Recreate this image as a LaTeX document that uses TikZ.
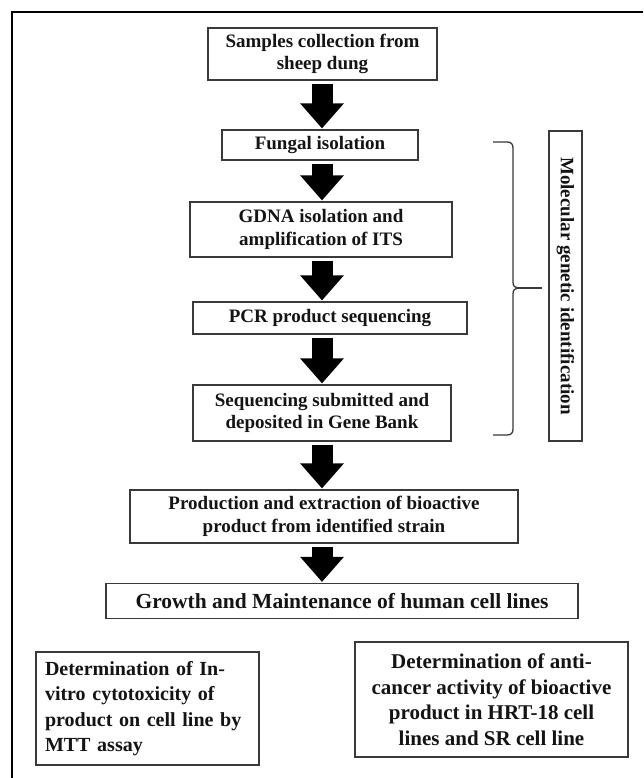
\documentclass[tikz,border=0pt]{standalone}
\usepackage{fontspec}
\setmainfont{Liberation Serif}
\usetikzlibrary{arrows.meta}
\definecolor{boxgray}{HTML}{3A3A3A}
\definecolor{txt}{HTML}{141414}
\begin{document}
\begin{tikzpicture}[x=1pt,y=-1pt,
  box/.style={draw=boxgray, line width=1.1pt, fill=white, align=center,
    font=\fontsize{19}{22.5}\selectfont\bfseries, text=txt, inner sep=0pt},
  bigbox/.style={box, font=\fontsize{21}{25.5}\selectfont\bfseries},
  fat/.style={line width=21pt, draw=black, -{Triangle[width=42pt,length=25pt]},
    shorten <=3pt, shorten >=1pt}]
\useasboundingbox (0,0) rectangle (643,778);
\fill[white] (0,0) rectangle (643,778);
\draw[line width=2.5pt] (643,12) -- (12,12) -- (12,778);

\coordinate (ax) at (322,0);

\node[box, minimum width=229pt, minimum height=52pt] (n1) at (322.5,54)
  {Samples collection from\\sheep dung};
\node[box, minimum width=196pt, minimum height=30pt] (n2) at (320,145)
  {Fungal isolation};
\node[box, minimum width=262pt, minimum height=55pt] (n3) at (321,229.5)
  {GDNA isolation and\\amplification of ITS};
\node[box, minimum width=274pt, minimum height=32pt] (n4) at (330,318)
  {PCR product sequencing};
\node[box, minimum width=258pt, minimum height=56pt] (n5) at (322,413)
  {Sequencing submitted and\\deposited in Gene Bank};
\node[box, minimum width=388pt, minimum height=53pt] (n6) at (324,516.5)
  {Production and extraction of bioactive\\product from identified strain};
\node[box, font=\fontsize{21.5}{25}\selectfont\bfseries, minimum width=472pt, minimum height=35pt] (n7) at (342,601)
  {Growth and Maintenance of human cell lines};
\node[bigbox, font=\fontsize{20}{25.5}\selectfont\bfseries, align=left, minimum width=223pt, minimum height=113pt, text width=205pt] (n8) at (147.5,708.5)
  {Determination of In-\\vitro cytotoxicity of\\product on cell line by\\MTT assay};
\node[bigbox, minimum width=273pt, minimum height=115pt] (n9) at (491.5,699.5)
  {Determination of anti-\\cancer activity of bioactive\\product in HRT-18 cell\\lines and SR cell line};
\node[box, rotate=-90, minimum width=310pt, minimum height=33pt] (mg) at (565.5,286)
  {Molecular genetic identification};

\draw[fat] (n1.south -| ax) -- (n2.north -| ax);
\draw[fat] (n2.south -| ax) -- (n3.north -| ax);
\draw[fat] (n3.south -| ax) -- (n4.north -| ax);
\draw[fat] (n4.south -| ax) -- (n5.north -| ax);
\draw[fat] (n5.south -| ax) -- (n6.north -| ax);
\draw[fat] (n6.south -| ax) -- (n7.north -| ax);

\draw[line width=1.3pt, draw=boxgray]
  (493,142) -- (507,142) .. controls (511,142) and (513,144) .. (513,148)
  -- (513,282) .. controls (513,286) and (515,288) .. (518,288)
  .. controls (515,288) and (513,290) .. (513,294)
  -- (513,429) .. controls (513,433) and (511,435) .. (507,435) -- (493,435);
\draw[line width=1.3pt, draw=boxgray] (518,288) -- (542,288);
\end{tikzpicture}
\end{document}
